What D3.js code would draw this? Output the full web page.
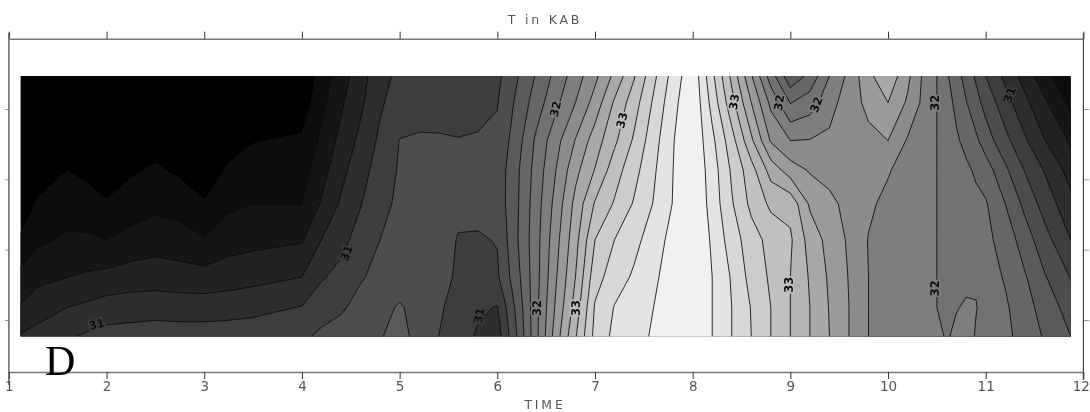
<!DOCTYPE html>
<html>
<head>
<meta charset="utf-8">
<script src="https://cdnjs.cloudflare.com/ajax/libs/d3/7.8.5/d3.min.js"></script>
<style>
  html, body { margin: 0; padding: 0; background: #fff; }
  svg { display: block; }
</style>
</head>
<body>
<svg id="chart" width="1090" height="412"></svg>
<script>
const titleText = "T in KAB";
const xLabelText = "TIME";
const panelLetter = "D";

const timeTicks = [1, 2, 3, 4, 5, 6, 7, 8, 9, 10, 11, 12];
const levelTicks = [1, 2, 3, 4];

// grid columns (TIME) and rows (vertical position on the unlabelled axis)
const times = [1.12, 1.3, 1.6, 1.8, 2, 2.25, 2.5, 2.75, 3, 3.25, 3.5, 4,
  4.2, 4.4, 4.6, 4.8, 5, 5.2, 5.4, 5.6, 5.8, 6,
  6.2, 6.4, 6.6, 6.8, 7, 7.2, 7.4, 7.6, 7.8, 8,
  8.2, 8.4, 8.6, 8.8, 9, 9.2, 9.4, 9.6, 9.8, 10, 10.2, 10.4,
  10.5, 10.6, 10.7, 10.8, 10.9, 11, 11.2, 11.4, 11.6, 11.87];
const depths = [4.47, 4.09, 3.55, 3.13, 2.65, 2.14, 1.61, 1.18, 0.77];

// T, one array per row, top row first
const row0 = [29.6, 29.7, 29.8, 29.75, 29.7, 29.75, 29.85, 29.7, 29.55, 29.7, 29.85, 30.0,
  30.29, 30.5, 30.72, 30.93, 31.05, 31.08, 31.07, 31.05, 31.06, 31.15,
  31.38, 31.62, 31.86, 32.1, 32.35, 32.65, 32.98, 33.35, 33.68, 33.95,
  33.45, 32.95, 32.42, 31.9, 31.45, 31.66, 32.0, 32.25, 32.55, 32.75, 32.45, 32.1,
  32, 31.83, 31.68, 31.52, 31.37, 31.2, 30.95, 30.72, 30.48, 30.18];
const row1 = [29.7, 29.8, 29.9, 29.85, 29.8, 29.87, 29.95, 29.82, 29.7, 29.85, 30.0, 30.08,
  30.34, 30.57, 30.76, 30.97, 31.1, 31.13, 31.12, 31.1, 31.1, 31.19,
  31.44, 31.7, 31.95, 32.2, 32.48, 32.83, 33.11, 33.43, 33.74, 33.97,
  33.53, 33.07, 32.6, 32.15, 31.79, 31.9, 32.12, 32.31, 32.45, 32.6, 32.37, 32.1,
  32, 31.88, 31.75, 31.61, 31.47, 31.33, 31.08, 30.85, 30.64, 30.34];
const row2 = [29.85, 29.95, 30.08, 30.0, 29.95, 30.03, 30.12, 30.0, 29.9, 30.08, 30.19, 30.23,
  30.44, 30.66, 30.85, 31.04, 31.205, 31.22, 31.22, 31.21, 31.23, 31.24,
  31.51, 31.84, 32.13, 32.41, 32.7, 32.96, 33.23, 33.52, 33.79, 33.97,
  33.65, 33.28, 32.84, 32.38, 32.2, 32.21, 32.24, 32.28, 32.35, 32.4, 32.18, 32.05,
  32, 31.9, 31.83, 31.74, 31.64, 31.5, 31.26, 31.03, 30.81, 30.57];
const row3 = [29.95, 30.05, 30.2, 30.15, 30.08, 30.17, 30.23, 30.16, 30.05, 30.24, 30.29, 30.31,
  30.52, 30.74, 30.92, 31.09, 31.22, 31.26, 31.26, 31.23, 31.22, 31.28,
  31.56, 31.88, 32.2, 32.54, 32.81, 33.11, 33.33, 33.57, 33.8, 33.98,
  33.7, 33.37, 33.08, 32.72, 32.5, 32.38, 32.33, 32.31, 32.31, 32.22, 32.1, 32.03,
  32, 31.92, 31.88, 31.84, 31.77, 31.7, 31.44, 31.19, 30.99, 30.72];
const row4 = [30.02, 30.24, 30.31, 30.28, 30.22, 30.3, 30.35, 30.32, 30.22, 30.36, 30.4, 30.4,
  30.62, 30.83, 30.99, 31.14, 31.24, 31.28, 31.28, 31.24, 31.26, 31.28,
  31.57, 31.91, 32.27, 32.66, 33.02, 33.22, 33.42, 33.61, 33.81, 34,
  33.72, 33.42, 33.15, 32.96, 32.94, 32.57, 32.45, 32.34, 32.24, 32.14, 32.07, 32.02,
  32, 31.95, 31.93, 31.89, 31.85, 31.82, 31.6, 31.35, 31.12, 30.86];
const row5 = [30.24, 30.36, 30.43, 30.43, 30.4, 30.46, 30.51, 30.48, 30.41, 30.51, 30.54, 30.58,
  30.8, 30.94, 31.08, 31.2, 31.25, 31.28, 31.28, 31.19, 31.18, 31.21,
  31.58, 31.93, 32.33, 32.73, 33.2, 33.4, 33.54, 33.7, 33.87, 34,
  33.77, 33.5, 33.29, 33.13, 33.03, 32.72, 32.53, 32.37, 32.19, 32.13, 32.07, 32.03,
  32, 31.96, 31.94, 31.91, 31.88, 31.85, 31.72, 31.5, 31.28, 31.0];
const row6 = [30.46, 30.55, 30.6, 30.63, 30.66, 30.7, 30.71, 30.69, 30.68, 30.71, 30.74, 30.8,
  30.98, 31.06, 31.18, 31.26, 31.26, 31.28, 31.27, 31.17, 31.12, 31.17,
  31.53, 31.93, 32.38, 32.8, 33.32, 33.5, 33.63, 33.77, 33.88, 34,
  33.8, 33.58, 33.33, 33.17, 33, 32.78, 32.57, 32.39, 32.2, 32.14, 32.09, 32.04,
  32, 31.96, 31.97, 31.96, 31.97, 31.9, 31.78, 31.62, 31.42, 31.19];
const row7 = [30.62, 30.71, 30.8, 30.84, 30.89, 30.9, 30.91, 30.9, 30.9, 30.91, 30.93, 31.01,
  31.11, 31.17, 31.27, 31.31, 31.43, 31.3, 31.23, 31.12, 31.03, 30.99,
  31.45, 31.95, 32.43, 32.88, 33.42, 33.61, 33.7, 33.8, 33.9, 34,
  33.8, 33.6, 33.39, 33.2, 33, 32.8, 32.59, 32.4, 32.2, 32.14, 32.09, 32.04,
  32, 31.95, 31.99, 32.02, 32.01, 31.93, 31.83, 31.68, 31.52, 31.31];
const row8 = [30.82, 30.87, 30.97, 31.03, 31.07, 31.09, 31.11, 31.1, 31.1, 31.11, 31.13, 31.16,
  31.24, 31.29, 31.34, 31.38, 31.5, 31.3, 31.2, 31.07, 30.98, 30.9,
  31.4, 31.95, 32.5, 32.98, 33.46, 33.65, 33.74, 33.82, 33.9, 34,
  33.8, 33.6, 33.4, 33.2, 33, 32.8, 32.6, 32.4, 32.2, 32.15, 32.1, 32.06,
  32.05, 31.98, 32.04, 32.1, 31.98, 31.95, 31.85, 31.72, 31.58, 31.4];
const rows = [row0, row1, row2, row3, row4, row5, row6, row7, row8];

const levels = [30.2, 30.4, 30.6, 30.8, 31, 31.2, 31.4, 31.6, 31.8, 32,
  32.2, 32.4, 32.6, 32.8, 33, 33.2, 33.4, 33.6, 33.8];
const bandGreys = ["#000000", "#0b0b0b", "#161616", "#222222", "#2e2e2e", "#3e3e3e", "#4e4e4e",
  "#5a5a5a", "#666666", "#727272", "#7e7e7e", "#8c8c8c", "#9a9a9a", "#a8a8a8", "#b4b4b4",
  "#c0c0c0", "#cccccc", "#d8d8d8", "#e4e4e4", "#f1f1f1"];

// contour labels
const labelTexts = ["31", "31", "31", "32", "33", "32", "33", "33", "32", "32", "32", "33", "32", "31"];
const labelTimes = [1.9, 4.46, 5.82, 6.41, 6.81, 6.6, 7.28, 8.43, 8.89, 9.27, 10.49, 8.99, 10.49, 11.25];
const labelDepths = [0.93, 1.95, 1.06, 1.17, 1.17, 4.0, 3.84, 4.1, 4.09, 4.06, 4.09, 1.5, 1.45, 4.2];
const labelAngles = [-15, -70, -80, -90, -90, -75, -75, -80, -80, -70, -90, -90, -90, -70];

const svg = d3.select("#chart");

const x = d3.scaleLinear().domain([1, 12]).range([8.9, 1083.4]);
const y = d3.scaleLinear().domain([1, 4]).range([320, 109]);
const axisTopY = y(5), axisBottomY = y(0.26);

const defs = svg.append("defs");
defs.append("filter").attr("id", "soft")
  .attr("x", "-2%").attr("y", "-2%").attr("width", "104%").attr("height", "104%")
  .append("feGaussianBlur").attr("stdDeviation", 0.45);
defs.append("clipPath").attr("id", "plotClip")
  .append("rect")
  .attr("x", x(times[0]))
  .attr("y", y(depths[0]))
  .attr("width", x(times[times.length - 1]) - x(times[0]))
  .attr("height", y(depths[depths.length - 1]) - y(depths[0]));

const chart = svg.append("g").attr("filter", "url(#soft)");

// ---- contours ----
const nx = times.length, ny = depths.length;
const flat = rows.flat();
const contours = d3.contours().size([nx, ny]).thresholds(levels)(flat);

// d3.contours puts grid point i at i + 0.5; the columns and rows are not evenly spaced
const colToTime = d3.scaleLinear().domain(times.map((d, i) => i + 0.5)).range(times);
const rowToDepth = d3.scaleLinear().domain(depths.map((d, i) => i + 0.5)).range(depths);

const path = d3.geoPath(d3.geoTransform({
  point(px, py) {
    this.stream.point(x(colToTime(px)), y(rowToDepth(py)));
  }
}));

const plot = chart.append("g").attr("clip-path", "url(#plotClip)");

plot.append("rect")
  .attr("x", x(times[0]) - 2)
  .attr("y", y(depths[0]) - 2)
  .attr("width", x(times[nx - 1]) - x(times[0]) + 4)
  .attr("height", y(depths[ny - 1]) - y(depths[0]) + 4)
  .attr("fill", bandGreys[0]);

plot.selectAll("path.band")
  .data(contours)
  .enter()
  .append("path")
  .attr("class", "band")
  .attr("d", path)
  .attr("fill", (d, i) => bandGreys[i + 1]);

plot.selectAll("path.isoline")
  .data(contours)
  .enter()
  .append("path")
  .attr("class", "isoline")
  .attr("d", path)
  .attr("fill", "none")
  .attr("stroke", "#0a0a0a")
  .attr("stroke-width", 1)
  .attr("stroke-opacity", 0.85);

// ---- contour labels ----
const bandColor = d3.scaleThreshold().domain(levels).range(bandGreys);

chart.selectAll("text.clabel")
  .data(labelTexts)
  .enter()
  .append("text")
  .attr("class", "clabel")
  .attr("transform", (d, i) => `translate(${x(labelTimes[i])},${y(labelDepths[i])}) rotate(${labelAngles[i]})`)
  .attr("text-anchor", "middle")
  .attr("dominant-baseline", "middle")
  .style("font-family", "'DejaVu Sans', sans-serif")
  .style("font-size", "11.5px")
  .style("font-weight", "bold")
  .style("fill", "#111")
  .style("stroke", d => bandColor(+d + 0.01))
  .style("stroke-width", "3px")
  .style("paint-order", "stroke")
  .text(d => d);

// ---- axes ----
function styleAxis(g) {
  g.select(".domain").attr("stroke", "#777").attr("stroke-width", 1.5);
  g.selectAll(".tick line").attr("stroke", "#333").attr("stroke-width", 1);
}

const axisFont = "'DejaVu Sans', sans-serif";

chart.append("g")
  .attr("transform", `translate(0,${axisBottomY})`)
  .call(d3.axisBottom(x).tickValues(timeTicks).tickSize(7).tickSizeOuter(0).tickPadding(2))
  .call(styleAxis)
  .call(g => g.selectAll("text")
    .style("font-family", axisFont)
    .style("font-size", "13.5px")
    .style("fill", "#555"))
  // the last label would run off the page, keep it inside like the reference
  .call(g => g.selectAll(".tick").filter(d => d === 12).select("text")
    .attr("text-anchor", "end")
    .attr("x", 6));

chart.append("g")
  .attr("transform", `translate(0,${axisTopY})`)
  .call(d3.axisTop(x).tickValues(timeTicks).tickSize(7).tickSizeOuter(0).tickFormat(""))
  .call(styleAxis);

chart.append("g")
  .attr("transform", `translate(${x(1)},0)`)
  .call(d3.axisLeft(y).tickValues(levelTicks).tickSize(4).tickSizeOuter(0).tickFormat(""))
  .call(g => g.selectAll(".tick line").attr("stroke", "#999"))
  .call(g => g.select(".domain").remove());

chart.append("g")
  .attr("transform", `translate(${x(12)},0)`)
  .call(d3.axisRight(y).tickValues(levelTicks).tickSize(6).tickSizeOuter(0).tickFormat(""))
  .call(g => g.selectAll(".tick line").attr("stroke", "#999"))
  .call(g => g.select(".domain").remove());

// side lines of the frame stick out a little past the top and bottom axes
chart.append("line")
  .attr("x1", x(1)).attr("x2", x(1))
  .attr("y1", axisTopY - 6).attr("y2", axisBottomY + 13)
  .attr("stroke", "#444").attr("stroke-width", 1.2);
chart.append("line")
  .attr("x1", x(12)).attr("x2", x(12))
  .attr("y1", axisTopY - 6).attr("y2", axisBottomY + 8)
  .attr("stroke", "#444").attr("stroke-width", 1.2);

// ---- titles ----
chart.append("text")
  .attr("x", 545).attr("y", 24)
  .attr("text-anchor", "middle")
  .style("font-family", axisFont)
  .style("font-size", "12.5px")
  .style("letter-spacing", "2.8px")
  .style("fill", "#555")
  .text(titleText);

chart.append("text")
  .attr("x", 545).attr("y", 409)
  .attr("text-anchor", "middle")
  .style("font-family", axisFont)
  .style("font-size", "12.5px")
  .style("letter-spacing", "2.8px")
  .style("fill", "#555")
  .text(xLabelText);

svg.append("text")
  .attr("x", 45).attr("y", 375)
  .style("font-family", "'Liberation Serif', serif")
  .style("font-size", "42px")
  .style("fill", "#000")
  .text(panelLetter);
</script>
</body>
</html>
